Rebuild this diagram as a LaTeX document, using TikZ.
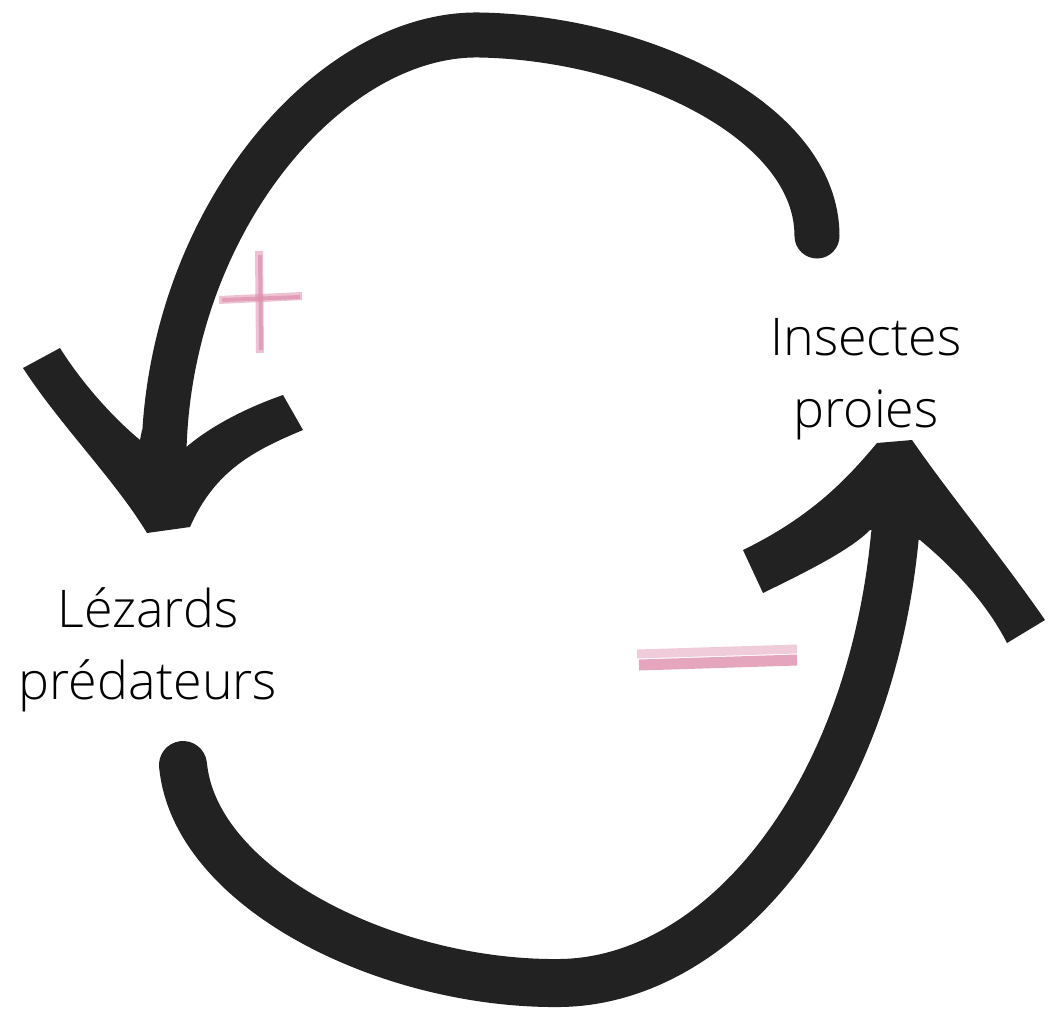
\documentclass[tikz,border=0pt]{standalone}
\usepackage{fontspec}
\setmainfont{Open Sans}[UprightFont=* Light]
\definecolor{brush}{HTML}{222222}
\definecolor{pinkish}{HTML}{DE8FAD}
\begin{document}
\begin{tikzpicture}[x=1pt,y=-1pt,
  brushfill/.style={fill=brush},
  brushline/.style={draw=brush,line cap=round},
  pinkline/.style={draw=pinkish,line cap=butt},
  lbl/.style={font=\fontsize{52}{72}\selectfont,align=center,inner sep=0pt,text=black}]
\useasboundingbox (0,0) rectangle (1058,1013);
% top arrow (insects -> lizards)
\coordinate (t0) at (817,236);
\coordinate (t1) at (480,35);
\coordinate (t2) at (164,450);
\draw[brushline, line width=45] (t0) .. controls (817,120) and (640,38) .. (t1)
  .. controls (330,32) and (170,220) .. (t2);
\fill[brushfill] (142,430) -- (140,440)
 .. controls (110,415) and (80,380) .. (60,348)
 -- (23,368)
 .. controls (60,425) and (115,480) .. (147,533)
 -- (190,527)
 .. controls (215,470) and (255,450) .. (303,430)
 -- (283,395)
 .. controls (240,410) and (205,430) .. (183,450)
 -- (186,430) -- cycle;
% bottom arrow (lizards -> insects)
\coordinate (b0) at (183,765);
\coordinate (b1) at (560,983);
\coordinate (b2) at (895,535);
\draw[brushline, line width=48] (b0) .. controls (195,890) and (390,985) .. (b1)
  .. controls (720,981) and (870,800) .. (b2);
\fill[brushfill] (920,540)
 .. controls (950,565) and (985,600) .. (1007,643)
 -- (1045,620)
 .. controls (1000,555) and (950,495) .. (912,440)
 -- (877,443)
 .. controls (850,475) and (815,515) .. (743,550)
 -- (763,593)
 .. controls (810,570) and (850,550) .. (870,530)
 -- cycle;
% labels
\node[lbl] (insectes) at (866,379) {Insectes\\proies};
\node[lbl] (lezards) at (148,650) {Lézards\\prédateurs};
% plus sign
\draw[pinkline, line width=8, opacity=0.55] (259,251) -- (260,353);
\draw[pinkline, line width=4, opacity=0.7] (260,255) -- (261,350);
\draw[pinkline, line width=8, opacity=0.55] (219,300) -- (302,296);
\draw[pinkline, line width=4, opacity=0.7] (222,300) -- (300,297);
% minus sign
\draw[pinkline, line width=9, opacity=0.45] (637,654) -- (797,649);
\draw[pinkline, line width=11, opacity=0.8] (639,665) -- (797,660);
\end{tikzpicture}
\end{document}
